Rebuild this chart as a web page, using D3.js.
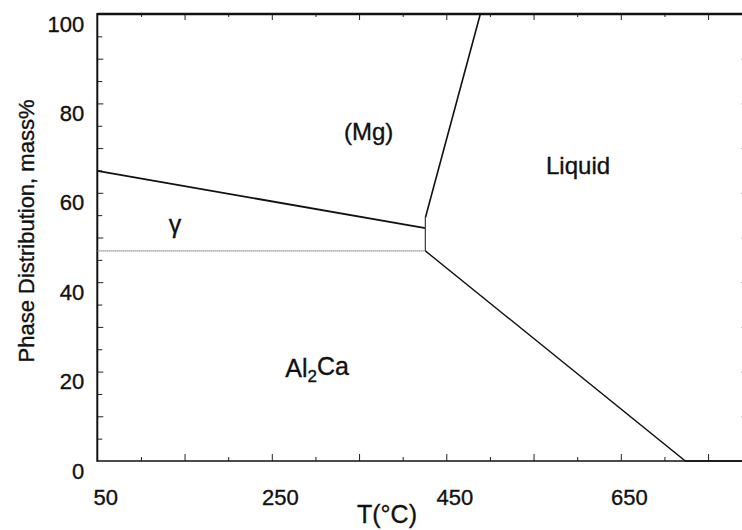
<!DOCTYPE html>
<html>
<head>
<meta charset="utf-8">
<script src="https://cdn.jsdelivr.net/npm/d3@7/dist/d3.min.js"></script>
<style>
  html, body { margin: 0; padding: 0; background: #fff; overflow: hidden; }
  svg { display: block; }
  text { font-family: "Liberation Sans", Arial, sans-serif; fill: #111; stroke: #111; stroke-width: 0.35px; }
</style>
</head>
<body>
<svg id="chart" width="742" height="530"></svg>
<script>
// ---- data (T in °C, phase distribution in mass%) ----
const xDomain = [50, 800];
const yDomain = [0, 100];
const xTickLabels = [50, 250, 450, 650];
const yTickLabels = [0, 20, 40, 60, 80, 100];
const xTicks = d3.range(100, 800, 50);          // every 50 °C
const yTicks = d3.range(5, 100, 5);             // every 5 %

const mgGammaBoundary   = [[50, 64.9], [426, 52.1]];
const eutecticBoundary  = [[426, 54.4], [426, 47.0]];
const gammaAl2CaBoundary = [[50, 47.0], [426, 47.0]];
const liquidMgBoundary  = [[426, 54.4], [489, 100]];
const liquidAl2CaBoundary = [[426, 47.0], [724, 0], [800, 0]];

const regionLabels = [
  { name: "(Mg)",   T: 361, pct: 73.8 },
  { name: "Liquid", T: 601, pct: 66.2 }
];
const gammaLabel = { name: "γ", T: 139, pct: 51.9 };
const al2caLabel = { T: 302, pct: 20.8 };

// ---- layout ----
(function () {
const svg = d3.select("#chart");
const mLeft = 97.3, mTop = 14, mBottom = 461;
const mRight = mLeft + (xDomain[1] - xDomain[0]) * 0.8725;

const x = d3.scaleLinear().domain(xDomain).range([mLeft, mRight]);
const y = d3.scaleLinear().domain(yDomain).range([mBottom, mTop]);

const tickFmt = () => "";
const xMajor = v => (v - 150) % 100 === 0;
const yMajor = v => v % 10 === 0;

const bottomGen = d3.axisBottom(x), topGen = d3.axisTop(x);
const leftGen = d3.axisLeft(y), rightGen = d3.axisRight(y);

function tickAxis(gen, tr, values, isMajor, majorLen, minorLen) {
  const g = svg.append("g").attr("transform", tr)
    .call(gen.tickValues(values).tickSizeInner(0).tickSizeOuter(0).tickFormat(tickFmt));
  g.select(".domain").remove();
  g.selectAll(".tick line")
    .each(function(d) {
      const len = isMajor(d) ? majorLen : minorLen;
      const sel = d3.select(this);
      sel.attr("stroke", "#222").attr("stroke-width", 1);
      if (gen === bottomGen) sel.attr("y2", -len);
      if (gen === topGen) sel.attr("y2", len);
      if (gen === leftGen) sel.attr("x2", len);
      if (gen === rightGen) sel.attr("x2", -len);
    });
  return g;
}
tickAxis(bottomGen, `translate(0,${mBottom})`, xTicks, xMajor, 7, 4);
tickAxis(topGen, `translate(0,${mTop})`, xTicks, xMajor, 6, 3);
tickAxis(leftGen, `translate(${mLeft},0)`, yTicks, yMajor, 6, 5);
tickAxis(rightGen, `translate(${mRight},0)`, d3.range(10, 100, 10), () => true, 10, 10);

// frame
svg.append("line").attr("x1", mLeft).attr("x2", mRight).attr("y1", mTop).attr("y2", mTop)
  .attr("stroke", "#111").attr("stroke-width", 2.4);
svg.append("line").attr("x1", mLeft).attr("x2", mRight).attr("y1", mBottom).attr("y2", mBottom)
  .attr("stroke", "#111").attr("stroke-width", 1.6);
svg.append("line").attr("x1", mLeft).attr("x2", mLeft).attr("y1", mTop - 1).attr("y2", mBottom + 0.8)
  .attr("stroke", "#111").attr("stroke-width", 2);
svg.append("line").attr("x1", mRight).attr("x2", mRight).attr("y1", mTop).attr("y2", mBottom)
  .attr("stroke", "#111").attr("stroke-width", 2);

// tick labels (text layer sits slightly offset in the original)
const xLab = svg.append("g").attr("transform", `translate(8,${mBottom})`)
  .call(d3.axisBottom(x).tickValues(xTickLabels).tickSize(0).tickPadding(28.4).tickFormat(d3.format("d")));
xLab.select(".domain").remove();
xLab.selectAll("text").attr("font-size", 22).attr("font-family", "Liberation Sans, Arial, sans-serif").attr("fill", "#111");

const yLab = svg.append("g").attr("transform", `translate(${mLeft},10)`)
  .call(d3.axisLeft(y).tickValues(yTickLabels).tickSize(0).tickPadding(13).tickFormat(d3.format("d")));
yLab.select(".domain").remove();
yLab.selectAll("text").attr("font-size", 22).attr("font-family", "Liberation Sans, Arial, sans-serif").attr("fill", "#111");

// axis titles
svg.append("text").attr("x", 387).attr("y", 523).attr("text-anchor", "middle")
  .attr("font-size", 25).text("T(°C)");
svg.append("text").attr("transform", "translate(34,231) rotate(-90)")
  .attr("text-anchor", "middle").attr("font-size", 22).text("Phase Distribution, mass%");

// phase boundaries
const line = d3.line().x(d => x(d[0])).y(d => y(d[1]));
svg.append("path").datum(gammaAl2CaBoundary).attr("d", line)
  .attr("fill", "none").attr("stroke", "#777").attr("stroke-width", 1.2).attr("stroke-dasharray", "1.2,0.8");
svg.append("path").datum(mgGammaBoundary).attr("d", line)
  .attr("fill", "none").attr("stroke", "#111").attr("stroke-width", 1.8);
svg.append("path").datum(eutecticBoundary).attr("d", line)
  .attr("fill", "none").attr("stroke", "#444").attr("stroke-width", 1.3);
svg.append("path").datum(liquidMgBoundary).attr("d", line)
  .attr("fill", "none").attr("stroke", "#111").attr("stroke-width", 1.6);
svg.append("path").datum(liquidAl2CaBoundary).attr("d", line)
  .attr("fill", "none").attr("stroke", "#111").attr("stroke-width", 1.4);

// region labels
svg.selectAll("text.region").data(regionLabels).join("text")
  .attr("class", "region")
  .attr("x", d => x(d.T)).attr("y", d => y(d.pct))
  .attr("dy", "0.36em").attr("text-anchor", "middle").attr("font-size", 24)
  .text(d => d.name);

svg.append("text").attr("x", x(gammaLabel.T)).attr("y", y(gammaLabel.pct))
  .attr("dy", "0.15em").attr("text-anchor", "middle")
  .attr("font-family", "Liberation Serif, Times New Roman, serif")
  .attr("font-size", 25).text(gammaLabel.name);

const al = svg.append("text").attr("x", x(al2caLabel.T)).attr("y", y(al2caLabel.pct))
  .attr("dy", "0.36em").attr("text-anchor", "middle").attr("font-size", 25);
al.append("tspan").text("Al");
al.append("tspan").attr("font-size", 17).attr("dy", "0.3em").text("2");
al.append("tspan").attr("dy", "-0.3em").text("Ca");
})();
</script>
</body>
</html>
